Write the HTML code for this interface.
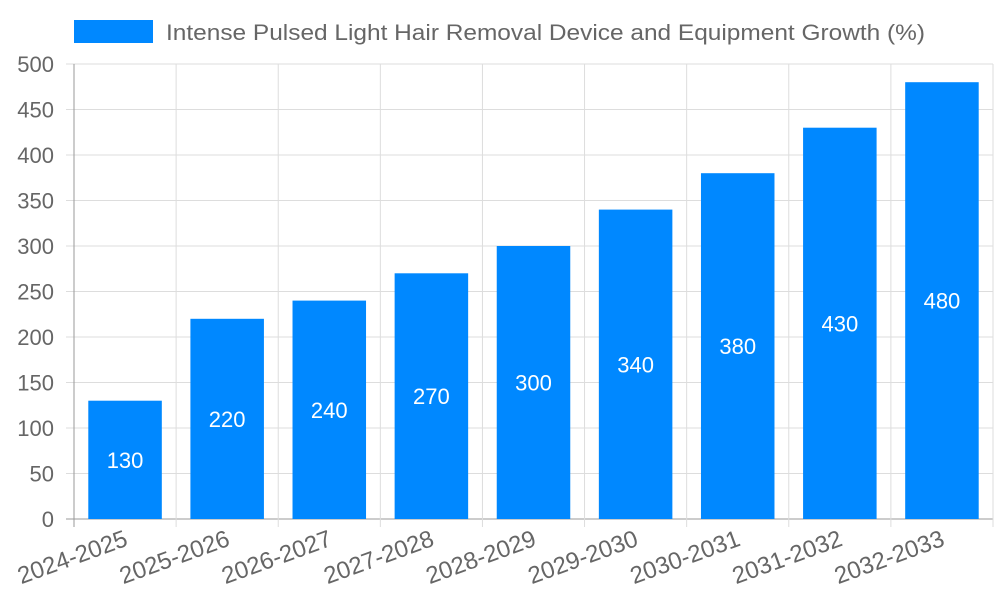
<!DOCTYPE html>
<html><head><meta charset="utf-8"><style>
html,body{margin:0;padding:0;background:#fff;}
svg{display:block;font-family:"Liberation Sans",sans-serif;}
</style></head><body>
<svg id="chart" width="1000" height="600">
<g id="grid"></g>
<g id="bars"></g>
<g id="axes"></g>
<g>
<rect x="74" y="20" width="79" height="23" fill="#0088ff"/>
<text x="166" y="40" font-size="22" fill="#666" textLength="759" lengthAdjust="spacingAndGlyphs">Intense Pulsed Light Hair Removal Device and Equipment Growth (%)</text>
</g>
</svg>
<script>
const categories=["2024-2025","2025-2026","2026-2027","2027-2028","2028-2029","2029-2030","2030-2031","2031-2032","2032-2033"];
const values=[130,220,240,270,300,340,380,430,480];
const yTicks=[0,50,100,150,200,250,300,350,400,450,500];
const L=74,R=993,T=64,B=519,yMax=500;
const NS="http://www.w3.org/2000/svg";
const n=categories.length,bw=(R-L)/n;
function y(v){return B-(v/yMax)*(B-T);}
function x(i){return L+i*bw;}
function mk(tag,attrs,parent){const e=document.createElementNS(NS,tag);for(const k in attrs)e.setAttribute(k,attrs[k]);parent.appendChild(e);return e;}
const grid=document.getElementById('grid'),bars=document.getElementById('bars'),axes=document.getElementById('axes');
yTicks.forEach(t=>{
 const g=mk('line',{x1:L-8,x2:R,y1:y(t),y2:y(t),stroke:t===0?'#999':'#ddd','stroke-width':1},grid);
 
 
 const tx=mk('text',{x:L-20,y:y(t)+8,'text-anchor':'end','font-size':22,fill:'#666'},axes);
 tx.textContent=t;
 
 
});
for(let i=0;i<=n;i++){
 const g=mk('line',{x1:x(i),x2:x(i),y1:T,y2:B+8,stroke:i===0?'#999':'#ddd','stroke-width':1},grid);
 
 
}
values.forEach((v,i)=>{
 const w=bw*0.72,cx=x(i)+bw/2;
 const r=mk('rect',{x:cx-w/2,y:y(v),width:w,height:B-y(v),fill:'#0088ff'},bars);
 
 
 const t=mk('text',{x:cx,y:(y(v)+B)/2+8,'text-anchor':'middle','font-size':22,fill:'#fff'},bars);
 t.textContent=v;
 
 
 const lx=cx+4,ly=B+26;
 const c=mk('text',{x:lx,y:ly,'text-anchor':'end','font-size':24,fill:'#666',transform:`rotate(-20 ${lx} ${ly})`},axes);
 c.textContent=categories[i];
 
 
});
</script>
</body></html>
